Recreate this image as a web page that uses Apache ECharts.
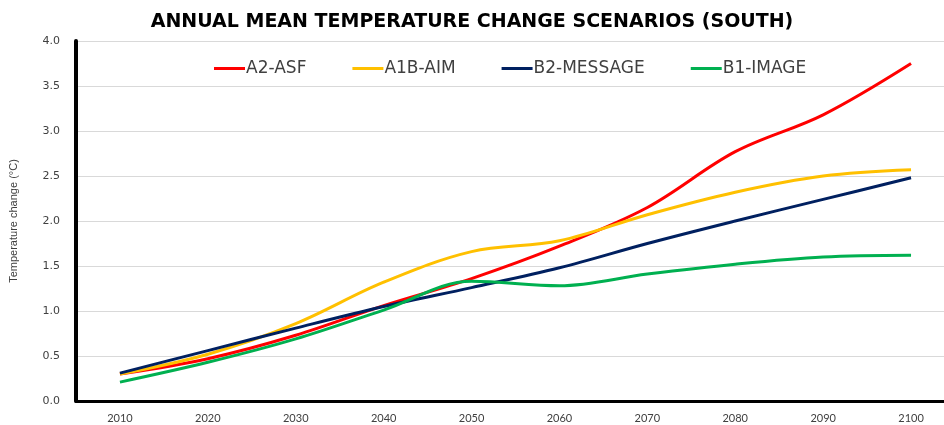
<!DOCTYPE html>
<html>
<head>
<meta charset="utf-8">
<script src="https://cdn.jsdelivr.net/npm/echarts@6/dist/echarts.min.js"></script>
<style>
  html, body { margin: 0; padding: 0; background: #fff; }
  #chart { width: 944px; height: 425px; }
</style>
</head>
<body>
<div id="chart"></div>
<script>
// years on the x axis
var years = [2010, 2020, 2030, 2040, 2050, 2060, 2070, 2080, 2090, 2100];

// temperature change (°C)
var a2Asf     = [0.30, 0.47, 0.73, 1.06, 1.36, 1.72, 2.15, 2.77, 3.18, 3.75];
var a1bAim    = [0.30, 0.52, 0.86, 1.32, 1.66, 1.78, 2.07, 2.32, 2.50, 2.57];
var b2Message = [0.31, 0.56, 0.81, 1.05, 1.26, 1.48, 1.75, 2.00, 2.24, 2.48];
var b1Image   = [0.21, 0.43, 0.69, 1.01, 1.33, 1.28, 1.41, 1.52, 1.60, 1.62];

var myChart = echarts.init(document.getElementById('chart'));

function line(name, vals, color) {
    return {
        name: name,
        type: 'line',
        data: years.map(function (y, i) { return [y, vals[i]]; }),
        smooth: 0.35,
        showSymbol: false,
        lineStyle: { color: color, width: 3 },
        itemStyle: { color: color }
    };
}

var option = {
    backgroundColor: '#fff',
    animation: false,
    textStyle: { fontFamily: 'DejaVu Sans' },
    title: {
        text: 'ANNUAL MEAN TEMPERATURE CHANGE SCENARIOS (SOUTH)',
        left: 'center',
        top: 8,
        textStyle: {
            fontFamily: 'DejaVu Sans',
            fontSize: 19,
            fontWeight: 'bold',
            color: '#000'
        }
    },
    legend: {
        top: 60,
        left: 214,
        padding: 0,
        icon: 'rect',
        itemWidth: 31,
        itemHeight: 3,
        itemGap: 46,
        textStyle: {
            fontFamily: 'DejaVu Sans',
            fontSize: 17,
            color: '#404040',
            padding: [0, 0, 0, -4]
        },
        data: ['A2-ASF', 'A1B-AIM', 'B2-MESSAGE', 'B1-IMAGE']
    },
    grid: {
        left: 75,
        right: 0,
        top: 41,
        bottom: 24
    },
    xAxis: {
        type: 'value',
        min: 2005,
        max: 2103.75,
        splitLine: { show: false },
        axisLine: { lineStyle: { color: '#000', width: 3 } },
        axisTick: { show: false, customValues: years },
        axisLabel: {
            customValues: years,
            formatter: function (v) { return String(v); },
            fontFamily: 'Lato',
            color: '#404040',
            fontSize: 11,
            margin: 12
        }
    },
    yAxis: {
        type: 'value',
        min: 0,
        max: 4,
        interval: 0.5,
        name: 'Temperature change (°C)',
        nameLocation: 'middle',
        nameGap: 57,
        nameTextStyle: { fontSize: 11, color: '#404040', fontFamily: 'Liberation Sans' },
        axisLine: { show: true, lineStyle: { color: '#000', width: 4 } },
        axisTick: { show: false },
        axisLabel: {
            fontFamily: 'DejaVu Sans',
            color: '#404040',
            fontSize: 11,
            margin: 16,
            formatter: function (v) { return v.toFixed(1); }
        },
        splitLine: { lineStyle: { color: '#d9d9d9', width: 1 } }
    },
    series: [
        line('A2-ASF', a2Asf, '#ff0000'),
        line('A1B-AIM', a1bAim, '#ffc000'),
        line('B2-MESSAGE', b2Message, '#002060'),
        line('B1-IMAGE', b1Image, '#00b050')
    ]
};

myChart.setOption(option);
</script>
</body>
</html>
